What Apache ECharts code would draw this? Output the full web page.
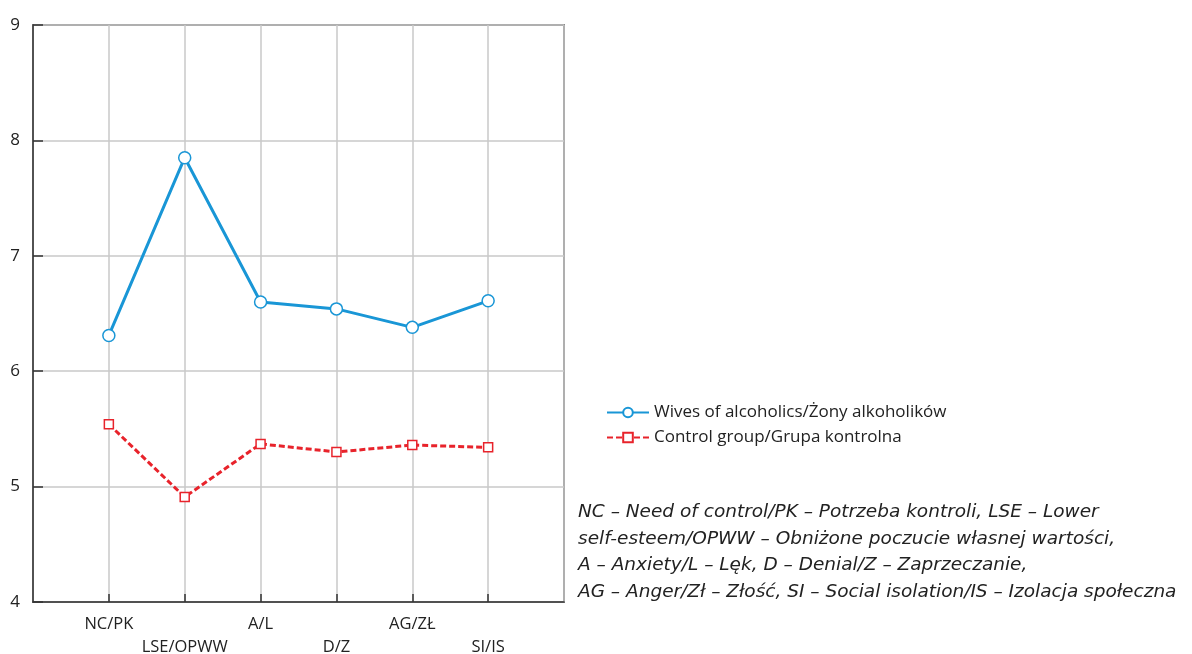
<!DOCTYPE html>
<html>
<head>
<meta charset="utf-8">
<script src="https://cdn.jsdelivr.net/npm/echarts@6/dist/echarts.min.js"></script>
<style>
  html, body { margin: 0; padding: 0; background: #fff; }
  #main { width: 1192px; height: 654px; }
</style>
</head>
<body>
<div id="main"></div>
<script>
// categories padded with empty slots at both ends so points sit on inner grid lines
const categories = ["", "NC/PK", "LSE/OPWW", "A/L", "D/Z", "AG/ZŁ", "SI/IS", ""];
const wives = [null, 6.31, 7.85, 6.60, 6.54, 6.38, 6.61, null];
const control = [null, 5.54, 4.91, 5.37, 5.30, 5.36, 5.34, null];
const yTicks = [4, 5, 6, 7, 8, 9];
const noteLines = [
  "NC – Need of control/PK – Potrzeba kontroli, LSE – Lower",
  "self-esteem/OPWW – Obniżone poczucie własnej wartości,",
  "A – Anxiety/L – Lęk, D – Denial/Z – Zaprzeczanie,",
  "AG – Anger/Zł – Złość, SI – Social isolation/IS – Izolacja społeczna"
];

const FONT = "'Open Sans', 'Noto Sans', sans-serif";
const BLUE = "#1996d6";
const RED = "#e8232b";

var myChart = echarts.init(document.getElementById("main"));
myChart.setOption({
  animation: false,
  textStyle: { fontFamily: FONT },
  grid: {
    left: 33, right: 628, top: 25, bottom: 52,
    outerBoundsMode: "none",
    containLabel: false,
    show: true, borderColor: "#333", borderWidth: 1.5
  },
  legend: {
    orient: "vertical",
    left: 601,
    top: 399,
    itemGap: 8,
    itemWidth: 42,
    itemHeight: 12,
    textStyle: { fontSize: 17, color: "#222", fontFamily: FONT },
    data: ["Wives of alcoholics/Żony alkoholików", "Control group/Grupa kontrolna"]
  },
  xAxis: {
    type: "category",
    boundaryGap: false,
    data: categories,
    axisLine: { lineStyle: { color: "#333", width: 1.5 } },
    axisTick: {
      inside: true, length: 8,
      lineStyle: { color: "#333", width: 1.5 },
      interval: function (i) { return i > 0 && i < categories.length - 1; }
    },
    axisLabel: {
      interval: 0,
      margin: 11,
      fontSize: 16.5,
      color: "#222",
      lineHeight: 23,
      formatter: function (v, i) { return i % 2 === 0 ? "\n" + v : v; }
    },
    splitLine: { show: true, lineStyle: { color: "#c8c8c8", width: 1.5 } }
  },
  yAxis: {
    type: "value",
    min: yTicks[0],
    max: yTicks[yTicks.length - 1],
    interval: 1,
    axisLine: { show: true, lineStyle: { color: "#333", width: 1.5 } },
    axisTick: { show: true, inside: true, length: 10, lineStyle: { color: "#333", width: 1.5 } },
    axisLabel: { fontSize: 17, color: "#222", margin: 13 },
    splitLine: { show: true, lineStyle: { color: "#c8c8c8", width: 1.5 } }
  },
  graphic: [{
    type: "text",
    left: 578,
    top: 499,
    style: {
      text: noteLines.join("\n"),
      font: "italic 18.5px 'DejaVu Sans', sans-serif",
      lineHeight: 26.5,
      fill: "#222"
    }
  }],
  series: [
    {
      name: "Wives of alcoholics/Żony alkoholików",
      type: "line",
      data: wives,
      symbol: "circle",
      symbolSize: 12,
      itemStyle: { color: "#fff", borderColor: BLUE, borderWidth: 1.5 },
      lineStyle: { color: BLUE, width: 3 }
    },
    {
      name: "Control group/Grupa kontrolna",
      type: "line",
      data: control,
      symbol: "rect",
      symbolSize: 9,
      itemStyle: { color: "#fff", borderColor: RED, borderWidth: 1.5 },
      lineStyle: { color: RED, width: 3, type: [6, 3] }
    }
  ]
});
</script>
</body>
</html>
